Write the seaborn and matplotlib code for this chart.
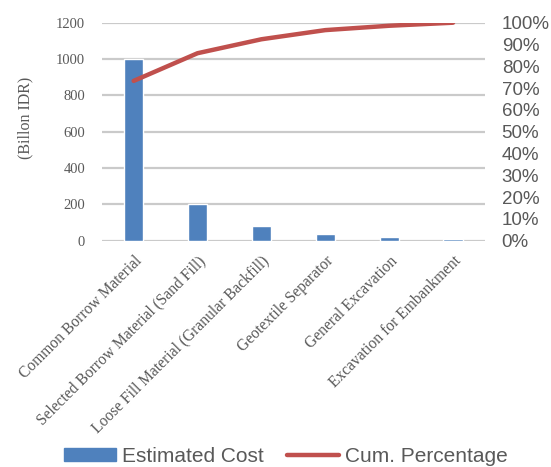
import matplotlib
matplotlib.use("Agg")
import matplotlib.pyplot as plt
import seaborn as sns
import numpy as np
import pandas as pd
from matplotlib.lines import Line2D
from matplotlib.patches import Patch

categories = ["Common Borrow Material", "Selected Borrow Material (Sand Fill)",
              "Loose Fill Material (Granular Backfill)", "Geotextile Separator",
              "General Excavation", "Excavation for Embankment"]
estimated_cost = [1000, 201, 81, 39, 18, 9]
cum_percentage = [73.3, 86.0, 92.4, 96.6, 98.6, 100.0]
left_ticks = [0, 200, 400, 600, 800, 1000, 1200]
right_ticks = list(range(0, 101, 10))

BLUE = "#4F81BD"
RED = "#C0504D"
GRID = "#CACACA"
TXT = "#595959"
SERIF = "Liberation Serif"
SANS = "Liberation Sans"

sns.set_style("white")
plt.rcParams["font.family"] = [SANS, "DejaVu Sans"]

df = pd.DataFrame({"cat": categories, "cost": estimated_cost, "cum": cum_percentage})

fig = plt.figure(figsize=(5.51, 4.67), dpi=100)
fig.patch.set_facecolor("white")
ax = fig.add_axes([101.7 / 551, 1 - 240.7 / 467, (485 - 101.7) / 551, (240.7 - 22.7) / 467])
ax.set_facecolor("none")

sns.barplot(data=df, x="cat", y="cost", color=BLUE, width=0.3, saturation=1, ax=ax, zorder=3)
ax.set_ylim(0, 1200)
ax.set_yticks(left_ticks)
ax.set_xlim(-0.5, len(categories) - 0.5)
for s in ax.spines.values():
    s.set_visible(False)
ax.tick_params(axis="both", length=0)
ax.set_yticklabels([str(t) for t in left_ticks], fontfamily=SERIF, fontsize=10.5, color=TXT)
ax.tick_params(axis="y", pad=12)
ax.set_xlabel("")
ax.set_ylabel("(Billon IDR)", fontfamily=SERIF, fontsize=11.5, color=TXT)
ax.yaxis.set_label_coords(-0.178, 0.565)
ax.set_xticks(range(len(categories)))
ax.set_xticklabels(categories, rotation=45, ha="right", va="top", rotation_mode="anchor",
                   fontfamily=SERIF, fontsize=11.2, color=TXT)
ax.tick_params(axis="x", pad=9)
ax.set_axisbelow(True)
for t in left_ticks:
    ax.axhline(t, color=GRID, linewidth=1.6, zorder=1)

ax2 = ax.twinx()
ax2.patch.set_visible(False)
sns.lineplot(x=np.arange(len(categories)), y=df["cum"], color=RED, linewidth=3.2,
             ax=ax2, solid_capstyle="round", zorder=4)
ax2.set_ylim(0, 100)
ax2.set_yticks(right_ticks)
ax2.set_yticklabels([f"{t}%" for t in right_ticks], fontfamily=SANS, fontsize=13.5, color=TXT)
ax2.tick_params(axis="y", length=0, pad=12)
ax2.set_ylabel("")
ax2.grid(False)
for s in ax2.spines.values():
    s.set_visible(False)
ax2.set_xlim(-0.5, len(categories) - 0.5)

handles = [Patch(facecolor=BLUE, edgecolor=BLUE),
           Line2D([0], [0], color=RED, linewidth=3.2, solid_capstyle="round")]
leg = fig.legend(handles, ["Estimated Cost", "Cum. Percentage"], loc="center",
                 bbox_to_anchor=(0.519, 1 - 456.5 / 467), ncol=2, frameon=False,
                 prop={"family": SANS, "size": 15}, handlelength=2.5, handleheight=0.55,
                 handletextpad=0.3, columnspacing=1.1, borderpad=0, borderaxespad=0)
for t in leg.get_texts():
    t.set_color(TXT)

fig.savefig("out.png", dpi=100, facecolor="white")
